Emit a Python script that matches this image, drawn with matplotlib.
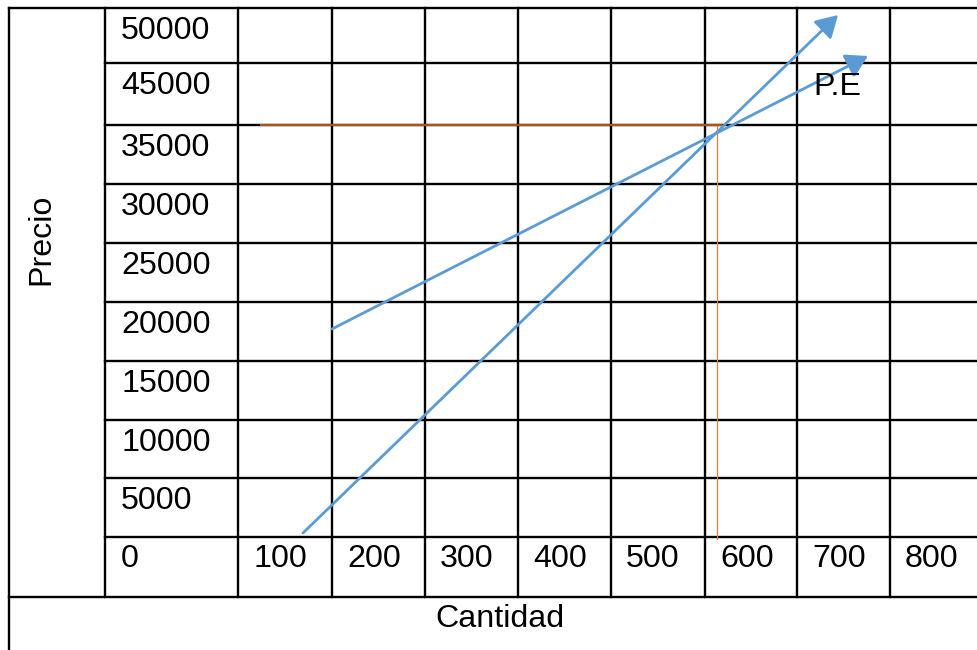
import matplotlib
matplotlib.use("Agg")
import matplotlib.pyplot as plt

plt.rcParams['font.family'] = ['Liberation Sans', 'DejaVu Sans']

# Table labels (data)
cantidad_labels = ['0', '100', '200', '300', '400', '500', '600', '700', '800']
precio_labels = ['50000', '45000', '35000', '30000', '25000', '20000',
                 '15000', '10000', '5000']
x_title = 'Cantidad'
y_title = 'Precio'
pe_label = 'P.E'

# Drawn curves (start -> arrow tip), in table/picture coordinates
oferta_x = [303, 838]
oferta_y = [533, 15]
demanda_x = [332, 868]
demanda_y = [329, 56]
# Equilibrium guide lines
eq_h_x = [261, 721]
eq_h_y = [125, 125]
eq_v_x = [717, 717]
eq_v_y = [126, 539]

# Layout of the table (pixel grid)
col_edges = [9, 105, 238, 332, 425, 518, 611, 705, 797, 890, 978]
row_edges = [8, 63, 125, 184, 243, 302, 361, 420, 478, 537, 597, 650]

W, H = 978, 650
fig = plt.figure(figsize=(W / 100, H / 100), dpi=100)
ax = fig.add_axes([0, 0, 1, 1])
ax.set_xlim(0, W)
ax.set_ylim(H, 0)
ax.axis('off')

lw = 1.7
k = 'black'
# outer left border
ax.plot([col_edges[0], col_edges[0]], [row_edges[0], H], color=k, lw=lw, solid_capstyle='projecting')
# top and line above title row
ax.plot([col_edges[0], W], [row_edges[0], row_edges[0]], color=k, lw=lw)
ax.plot([col_edges[0], W], [row_edges[-2], row_edges[-2]], color=k, lw=lw)
# inner horizontal lines
for y in row_edges[1:-2]:
    ax.plot([col_edges[1], W], [y, y], color=k, lw=lw)
# inner vertical lines
for x in col_edges[1:-1]:
    ax.plot([x, x], [row_edges[0], row_edges[-2]], color=k, lw=lw)

fs = 23.2
# y labels
for i, lab in enumerate(precio_labels):
    ax.text(col_edges[1] + 16, row_edges[i] + 31, lab, fontsize=fs,
            ha='left', va='baseline', color='black')
# x labels
for j, lab in enumerate(cantidad_labels):
    ax.text(col_edges[j + 1] + 15 + (1 if j == 0 else 0), row_edges[9] + 30, lab,
            fontsize=fs, ha='left', va='baseline', color='black')

ax.text(500, 627, x_title, fontsize=fs,
        ha='center', va='baseline', color='black')
ax.text(41, 239, y_title, fontsize=fs, rotation=90, ha='center', va='center',
        color='black')

# equilibrium guides
ax.plot(eq_h_x, eq_h_y, color='#A9541E', lw=1.6)
ax.plot(eq_v_x, eq_v_y, color='#ED7D31', lw=0.9)

blue = '#5B9BD5'
for xs, ys in [(oferta_x, oferta_y), (demanda_x, demanda_y)]:
    ax.annotate('', xy=(xs[1], ys[1]), xytext=(xs[0], ys[0]),
                arrowprops=dict(arrowstyle='-|>,head_length=0.6,head_width=0.35',
                                color=blue, lw=2.0,
                                mutation_scale=22, shrinkA=0, shrinkB=0))

ax.text(813, 95, pe_label, fontsize=fs, ha='left', va='baseline', color='black')

fig.savefig('out.png', dpi=100)
